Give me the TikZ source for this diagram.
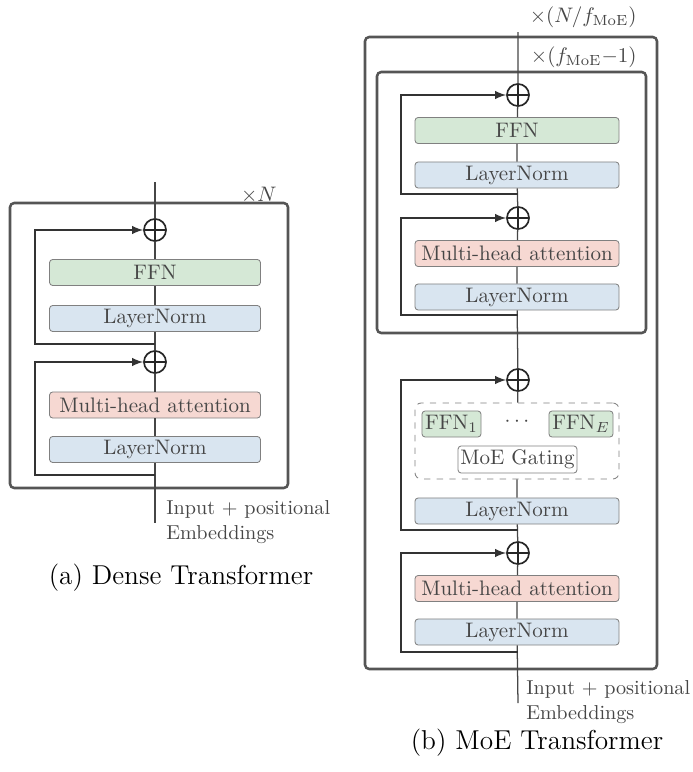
\documentclass[tikz,border=0pt]{standalone}
\definecolor{ffngreen}{RGB}{213,232,214}
\definecolor{normblue}{RGB}{217,229,240}
\definecolor{attnred}{RGB}{246,216,210}
\definecolor{boxgray}{RGB}{85,85,85}
\definecolor{txtgray}{RGB}{70,70,70}
\begin{document}
\begin{tikzpicture}[x=0.476pt,y=-0.476pt,
        block/.style={draw=gray,rounded corners=1.5pt,text=txtgray,minimum height=12.4pt,inner sep=0pt},
        plus/.style={circle,draw=black!85,line width=0.8pt,minimum size=10.5pt,inner sep=0pt,
            path picture={\draw[black!85,line width=0.8pt] (path picture bounding box.north) -- (path picture bounding box.south)
                (path picture bounding box.west) -- (path picture bounding box.east);}},
        outer/.style={draw=boxgray,line width=1.2pt,rounded corners=2pt},
        mainline/.style={draw=txtgray,line width=0.6pt},
        skiparrow/.style={draw=black!80,line width=0.8pt,-latex},
        inputtext/.style={anchor=west,align=left,text=txtgray,inner sep=0pt,font=\fontsize{9.6}{12}\selectfont},
        caption/.style={font=\fontsize{13}{16}\selectfont}
    ]
    \useasboundingbox (0,0) rectangle (693,772);

    % (a) dense transformer
    \draw[outer] (10,203) rectangle (288,488);
    \node[anchor=east,text=txtgray,inner sep=0pt] (a-rep) at (277,195) {$\times N$};
    \coordinate (a-top) at (155,182);
    \coordinate (a-bot) at (155,523);
    \node[plus] (a-p1) at (155,230) {};
    \node[block,fill=ffngreen,minimum width=100.4pt] (a-ffn) at (155,272.5) {FFN};
    \node[block,fill=normblue,minimum width=100.4pt] (a-ln1) at (155,318.5) {LayerNorm};
    \node[plus] (a-p2) at (155,362) {};
    \node[block,fill=attnred,minimum width=100.4pt] (a-mha) at (155,405) {Multi-head attention};
    \node[block,fill=normblue,minimum width=100.4pt] (a-ln2) at (155,449.5) {LayerNorm};
    \draw[mainline] (a-top) -- (a-p1) -- (a-ffn) -- (a-ln1) -- (a-p2) -- (a-mha) -- (a-ln2) -- (a-bot);
    \coordinate (a-s1) at (155,344);
    \coordinate (a-s2) at (155,475);
    \draw[skiparrow] (a-s1) -- (35,344) |- (a-p1);
    \draw[skiparrow] (a-s2) -- (35,475) |- (a-p2);
    \node[inputtext] (a-in) at (166,522) {Input + positional\\Embeddings};
    \node[caption] (a-cap) at (181,578) {(a) Dense Transformer};

    % (b) MoE transformer
    \draw[outer] (365,37) rectangle (657,669);
    \draw[outer] (377,72) rectangle (646,333);
    \node[anchor=east,text=txtgray,inner sep=0pt] (b-rep) at (637,17) {$\times(N/f_{\mathrm{MoE}})$};
    \node[anchor=east,text=txtgray,inner sep=0pt] (b-rep2) at (637,57) {$\times(f_{\mathrm{MoE}}{-}1)$};
    \coordinate (b-top) at (518,32);
    \coordinate (b-bot) at (518,703);
    \node[plus] (b-p1) at (518,95) {};
    \node[block,fill=ffngreen,minimum width=97.1pt] (b-ffn) at (517,130.5) {FFN};
    \node[block,fill=normblue,minimum width=97.1pt] (b-ln1) at (517,175) {LayerNorm};
    \node[plus] (b-p2) at (518,218) {};
    \node[block,fill=attnred,minimum width=97.1pt] (b-mha1) at (517,253.5) {Multi-head attention};
    \node[block,fill=normblue,minimum width=97.1pt] (b-ln2) at (517,297) {LayerNorm};
    \node[plus] (b-p3) at (518,380) {};
    \node[draw=gray,dashed,rounded corners=3pt,minimum width=97.1pt,minimum height=36.2pt,inner sep=0pt] (b-moe) at (517,441) {};
    \node[block,fill=ffngreen,minimum width=28.1pt] (b-ffn1) at (451.5,424) {FFN$_1$};
    \node[text=txtgray] (b-dots) at (517,422) {$\cdots$};
    \node[block,fill=ffngreen,minimum width=30.5pt] (b-ffne) at (581,424) {FFN$_E$};
    \node[block,fill=white,minimum width=56.6pt,minimum height=12.9pt] (b-gate) at (517.5,459.5) {MoE Gating};
    \node[block,fill=normblue,minimum width=97.1pt] (b-ln3) at (517,511) {LayerNorm};
    \node[plus] (b-p4) at (518,553) {};
    \node[block,fill=attnred,minimum width=97.1pt] (b-mha2) at (517,588.5) {Multi-head attention};
    \node[block,fill=normblue,minimum width=97.1pt] (b-ln4) at (517,632) {LayerNorm};
    \draw[mainline] (b-top) -- (b-p1) -- (b-ffn) -- (b-ln1) -- (b-p2) -- (b-mha1) -- (b-ln2) -- (b-p3) -- (b-moe);
    \draw[mainline] (b-moe) -- (b-ln3) -- (b-p4) -- (b-mha2) -- (b-ln4) -- (b-bot);
    \coordinate (b-s1) at (518,194);
    \coordinate (b-s2) at (518,315);
    \coordinate (b-s3) at (518,530);
    \coordinate (b-s4) at (518,652);
    \draw[skiparrow] (b-s1) -- (401,194) |- (b-p1);
    \draw[skiparrow] (b-s2) -- (401,315) |- (b-p2);
    \draw[skiparrow] (b-s3) -- (401,530) |- (b-p3);
    \draw[skiparrow] (b-s4) -- (401,652) |- (b-p4);
    \node[inputtext] (b-in) at (526,702) {Input + positional\\Embeddings};
    \node[caption] (b-cap) at (537,743) {(b) MoE Transformer};
\end{tikzpicture}
\end{document}
